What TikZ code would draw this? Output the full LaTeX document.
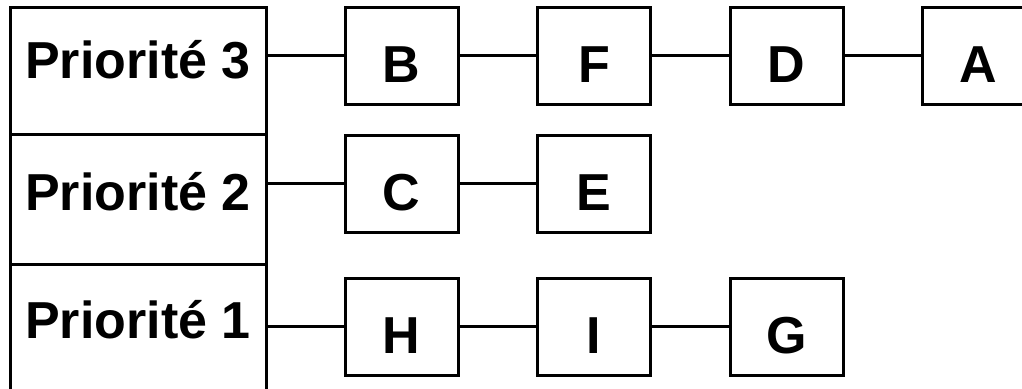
\documentclass[tikz,border=0pt]{standalone}
\usepackage{fontspec}
\setmainfont{Liberation Sans}
\begin{document}
\begin{tikzpicture}[x=1pt,y=-1pt,
  line width=3pt,
  every node/.style={font=\fontsize{52}{60}\selectfont\bfseries},
  prio/.style={draw, rectangle, inner sep=0pt, minimum width=256pt, anchor=base},
  item/.style={draw, rectangle, inner sep=0pt, minimum width=113pt,
               text height=75pt, text depth=22pt, anchor=base},
  link/.style={line width=3pt}]
\useasboundingbox (0,0) rectangle (1022,388);
\clip (0,0) rectangle (1022,388);

% priority column
\node[prio, text height=71pt, text depth=56pt] (p3) at (138,78) {Priorité 3};
\node[prio, text height=76pt, text depth=54pt] (p2) at (138,210) {Priorité 2};
\node[prio, text height=74pt, text depth=70pt] (p1) at (138,338) {Priorité 1};

% queue of priority 3
\node[item] (b) at (401.5,82) {B};
\node[item] (f) at (594,82) {F};
\node[item] (d) at (786.5,82) {D};
\node[item] (a) at (978.5,82) {A};

% queue of priority 2
\node[item] (c) at (401.5,210) {C};
\node[item] (e) at (594,210) {E};

% queue of priority 1
\node[item] (h) at (401.5,353) {H};
\node[item] (i) at (594,353) {I};
\node[item] (g) at (786.5,353) {G};

% links
\draw[link] (b.west -| p3.east) -- (b.west);
\draw[link] (b) -- (f);
\draw[link] (f) -- (d);
\draw[link] (d) -- (a);
\draw[link] (c.west -| p2.east) -- (c.west);
\draw[link] (c) -- (e);
\draw[link] (h.west -| p1.east) -- (h.west);
\draw[link] (h) -- (i);
\draw[link] (i) -- (g);
\end{tikzpicture}
\end{document}
